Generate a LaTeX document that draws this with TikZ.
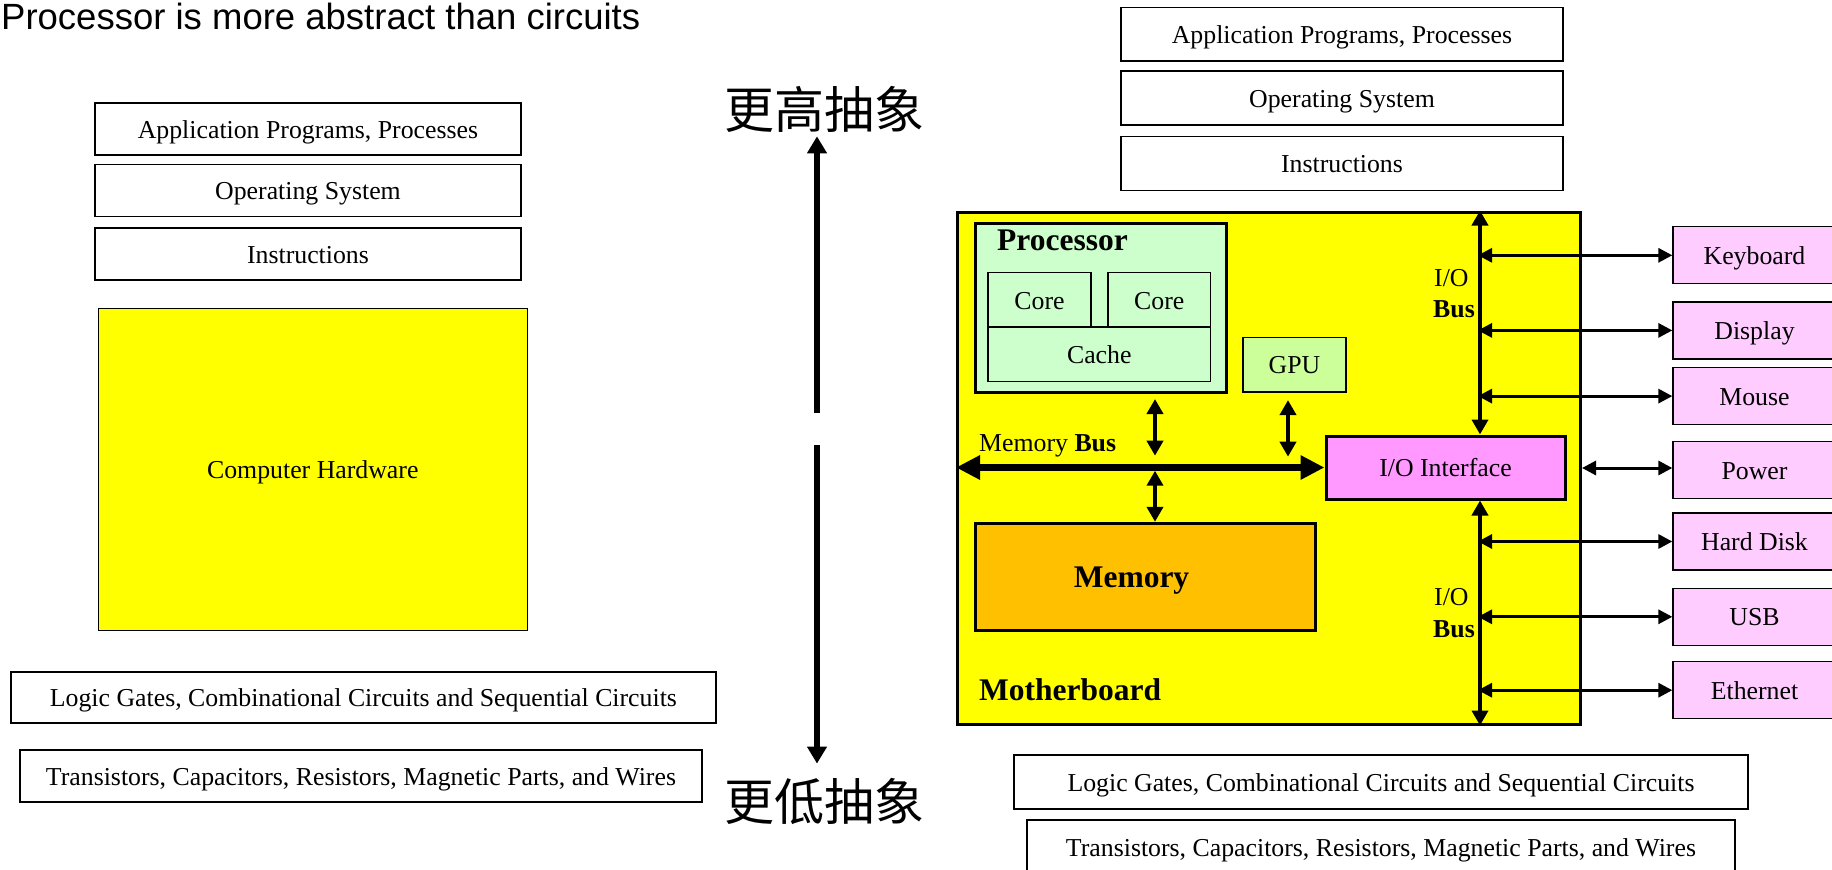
\documentclass[tikz,border=0pt]{standalone}
\usepackage{fontspec}
\setmainfont{Liberation Serif}
\newfontfamily\titlefont{Liberation Sans}
\newfontfamily\cjkfont{Noto Sans CJK SC}
\usetikzlibrary{arrows.meta}

\definecolor{hwyellow}{HTML}{FFFF00}
\definecolor{procgreen}{HTML}{CCFFCC}
\definecolor{gpugreen}{HTML}{CCFF99}
\definecolor{iopink}{HTML}{FF99FF}
\definecolor{devpink}{HTML}{FFCCFF}
\definecolor{memorange}{HTML}{FFC000}

\begin{document}
\begin{tikzpicture}[x=1pt, y=-1pt,
  layer/.style={rectangle, draw, line width=1.3pt, minimum height=52pt, font=\fontsize{25.8}{31}\selectfont, text height=18pt, text depth=0pt, text centered},
  board/.style={rectangle, draw, line width=3pt},
  part/.style={rectangle, draw, line width=1.3pt, fill=procgreen, minimum height=54.5pt, font=\fontsize{25.8}{31}\selectfont, text height=18pt, text depth=0pt},
  device/.style={rectangle, draw, line width=1.3pt, fill=devpink, minimum width=163pt, minimum height=57pt, font=\fontsize{25.8}{31}\selectfont, text height=18pt, text depth=0pt},
  tag/.style={inner sep=0pt, anchor=base west, font=\fontsize{25.8}{31}\selectfont},
  bigtag/.style={inner sep=0pt, anchor=base west, font=\fontsize{31.5}{36}\selectfont\bfseries},
  cjk/.style={inner sep=0pt, font=\cjkfont\fontsize{50}{56}\selectfont},
  absarr/.style={-{Triangle[length=17pt, width=19pt]}, line width=6pt},
  busarr/.style={{Triangle[length=24pt, width=23pt]}-{Triangle[length=24pt, width=23pt]}, line width=7.3pt},
  linkarr/.style={{Triangle[length=15pt, width=16pt]}-{Triangle[length=15pt, width=16pt]}, line width=4.5pt},
  devarr/.style={{Triangle[length=14pt, width=14pt]}-{Triangle[length=14pt, width=14pt]}, line width=3pt}
]
\useasboundingbox (0,0) rectangle (1832,870);

\node[inner sep=0pt, anchor=base west, font=\titlefont\fontsize{36.5}{40}\selectfont] (title) at (1,29) {Processor is more abstract than circuits};

\node[layer, minimum width=426pt] (lapp) at (308,129) {Application Programs, Processes};
\node[layer, minimum width=426pt] (los) at (308,190.5) {Operating System};
\node[layer, minimum width=426pt] (linstr) at (308,254) {Instructions};
\node[layer, fill=hwyellow, line width=1pt, minimum width=429pt, minimum height=322pt] (lhw) at (312.8,469) {Computer Hardware};
\node[layer, minimum width=705pt, minimum height=51pt] (llogic) at (363.4,697.5) {Logic Gates, Combinational Circuits and Sequential Circuits};
\node[layer, minimum width=682pt] (ltrans) at (361,776) {Transistors, Capacitors, Resistors, Magnetic Parts, and Wires};

\node[cjk] (higher) at (824,109) {更高抽象};
\node[cjk] (lower) at (824,801) {更低抽象};
\coordinate (gap) at (817,429);
\draw[absarr, shorten >=4pt] ([yshift=16pt]gap) -- (higher.south -| gap);
\draw[absarr, shorten >=14pt] ([yshift=-16pt]gap) -- (lower.north -| gap);

\node[layer, minimum width=442pt, minimum height=53.3pt] (rapp) at (1342,34.3) {Application Programs, Processes};
\node[layer, minimum width=442pt, minimum height=54pt] (ros) at (1342,98) {Operating System};
\node[layer, minimum width=442pt, minimum height=54pt] (rinstr) at (1342,163.7) {Instructions};

\node[board, fill=hwyellow, minimum width=623pt, minimum height=512pt] (mb) at (1269,468) {};
\node[board, fill=procgreen, minimum width=251pt, minimum height=169pt] (proc) at (1101,307.5) {};
\node[part, minimum width=103pt] (core1) at (1039.5,300) {Core};
\node[part, minimum width=102.6pt] (core2) at (1159.3,300) {Core};
\node[part, minimum width=222.6pt] (cache) at (1099.3,354.3) {Cache};
\node[part, fill=gpugreen, minimum width=103pt] (gpu) at (1294.5,364.7) {GPU};
\node[board, fill=iopink, minimum width=239pt, minimum height=63pt, font=\fontsize{25.8}{31}\selectfont, text height=18pt, text depth=0pt] (ioif) at (1445.5,467.5) {I/O Interface};
\node[board, fill=memorange, minimum width=340pt, minimum height=107.4pt, font=\fontsize{31.5}{36}\selectfont\bfseries, text height=21pt, text depth=0pt] (mem) at (1145.5,577) {Memory\hspace{28pt}\null};

\node[bigtag] (proclbl) at (997,250) {Processor};
\node[bigtag] (mblbl) at (979,700) {Motherboard};
\node[tag] (buslbl) at (979,451) {Memory \textbf{Bus}};
\node[tag] (io1) at (1434,286) {I/O};
\node[tag] (bus1) at (1433,317) {\textbf{Bus}};
\node[tag] (io2) at (1434,605) {I/O};
\node[tag] (bus2) at (1433,637) {\textbf{Bus}};

\node[device] (kbd) at (1754.5,255.3) {Keyboard};
\node[device] (disp) at (1754.5,330.4) {Display};
\node[device] (mouse) at (1754.5,396.1) {Mouse};
\node[device] (power) at (1754.5,470.2) {Power};
\node[device] (hdd) at (1754.5,541.5) {Hard Disk};
\node[device] (usb) at (1754.5,616.8) {USB};
\node[device] (eth) at (1754.5,690.2) {Ethernet};

\node[layer, minimum width=734pt, minimum height=54pt] (rlogic) at (1381,782) {Logic Gates, Combinational Circuits and Sequential Circuits};
\node[layer, minimum width=708pt, minimum height=54pt] (rtrans) at (1381,847) {Transistors, Capacitors, Resistors, Magnetic Parts, and Wires};

\coordinate (pj) at (1155,466.7);
\coordinate (gj) at (1288,466.7);
\coordinate (iobus) at (1480,466.7);

\draw[busarr] (mb.west |- ioif.west) -- (ioif.west);
\draw[linkarr, shorten <=5.5pt, shorten >=11pt] (proc.south -| pj) -- (pj);
\draw[linkarr, shorten <=7.5pt, shorten >=10pt] (gpu.south -| gj) -- (gj);
\draw[linkarr, shorten <=4pt] (pj) -- (mem.north -| pj);

\draw[linkarr] (ioif.north -| iobus) -- (mb.north -| iobus);
\draw[linkarr] (ioif.south -| iobus) -- (mb.south -| iobus);

\draw[devarr, shorten <=-2pt] (kbd.west -| iobus) -- (kbd.west);
\draw[devarr, shorten <=-2pt] (disp.west -| iobus) -- (disp.west);
\draw[devarr, shorten <=-2pt] (mouse.west -| iobus) -- (mouse.west);
\draw[devarr] (mb.east) -- (mb.east -| power.west);
\draw[devarr, shorten <=-2pt] (hdd.west -| iobus) -- (hdd.west);
\draw[devarr, shorten <=-2pt] (usb.west -| iobus) -- (usb.west);
\draw[devarr, shorten <=-2pt] (eth.west -| iobus) -- (eth.west);

\end{tikzpicture}
\end{document}
